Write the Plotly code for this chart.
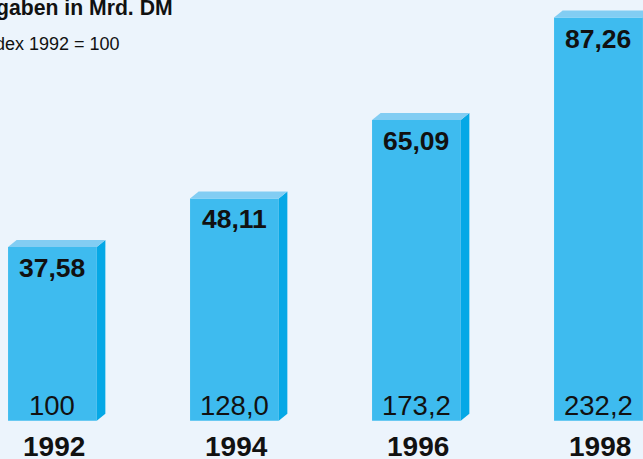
import plotly.graph_objects as go

years = ["1992", "1994", "1996", "1998"]
spending = [37.58, 48.11, 65.09, 87.26]
index_labels = ["100", "128,0", "173,2", "232,2"]
value_labels = ["37,58", "48,11", "65,09", "87,26"]

W, H = 643, 459
step_px = 182.0
first_center_px = 52.4
zero_px = 420.7
px_per_unit = 4.62
bar_w = 88.7 / step_px
dx = 8.6 / step_px
dy = 7.0 / px_per_unit

x0 = -first_center_px / step_px
x1 = x0 + W / step_px
y1 = zero_px / px_per_unit
y0 = -(H - zero_px) / px_per_unit

front = "#3EBBEF"
top_c = "#82CDF3"
side_c = "#05A8E6"
bg = "#ECF4FC"

xs = list(range(len(years)))

fig = go.Figure()
fig.add_trace(go.Bar(x=xs, y=spending, width=bar_w, marker=dict(color=front, line=dict(width=0)),
                     hoverinfo="skip"))

shapes = []
for i, v in zip(xs, spending):
    xl, xr = i - bar_w / 2, i + bar_w / 2
    side = f"M {xr},0 L {xr+dx},{dy} L {xr+dx},{v+dy} L {xr},{v} Z"
    top = f"M {xl},{v} L {xl+dx},{v+dy} L {xr+dx},{v+dy} L {xr},{v} Z"
    shapes.append(dict(type="path", path=side, xref="x", yref="y", fillcolor=side_c, line=dict(width=0), layer="above"))
    shapes.append(dict(type="path", path=top, xref="x", yref="y", fillcolor=top_c, line=dict(width=0), layer="above"))

ann = []
for i, v in zip(xs, spending):
    ann.append(dict(x=i, y=v, xref="x", yref="y", text=value_labels[i], showarrow=False,
                    yanchor="middle", yshift=-21,
                    font=dict(family="Liberation Sans, Arial", size=26.5, color="#111111", weight="bold")))
    ann.append(dict(x=i, y=0, xref="x", yref="y", text=index_labels[i], showarrow=False,
                    yanchor="middle", yshift=15,
                    font=dict(family="Liberation Sans, Arial", size=27.5, color="#111111")))
    ann.append(dict(x=i + 0.01, y=0, xref="x", yref="y", text=years[i], showarrow=False,
                    yanchor="top", yshift=-8,
                    font=dict(family="Liberation Sans Narrow, Liberation Sans, Arial", size=28, color="#111111", weight="bold")))

ann.append(dict(x=174.5 / W, y=1, xref="paper", yref="paper", xanchor="right", yanchor="top",
                text="Ausgaben in Mrd. DM", showarrow=False, yshift=6,
                font=dict(family="Liberation Sans, Arial", size=21.2, color="#111111", weight="bold")))
ann.append(dict(x=122.5 / W, y=1, xref="paper", yref="paper", xanchor="right", yanchor="top",
                text="Index 1992 = 100", showarrow=False, yshift=-32,
                font=dict(family="Liberation Sans, Arial", size=18, color="#111111")))

fig.update_layout(
    width=W, height=H,
    margin=dict(l=0, r=0, t=0, b=0),
    paper_bgcolor=bg, plot_bgcolor=bg,
    showlegend=False,
    xaxis=dict(range=[x0, x1], visible=False, fixedrange=True),
    yaxis=dict(range=[y0, y1], visible=False, fixedrange=True),
    shapes=shapes, annotations=ann,
)

fig.write_html("out.html", config={"displayModeBar": False},
               post_script="document.body.style.margin='0';document.body.style.background='" + bg + "';")
